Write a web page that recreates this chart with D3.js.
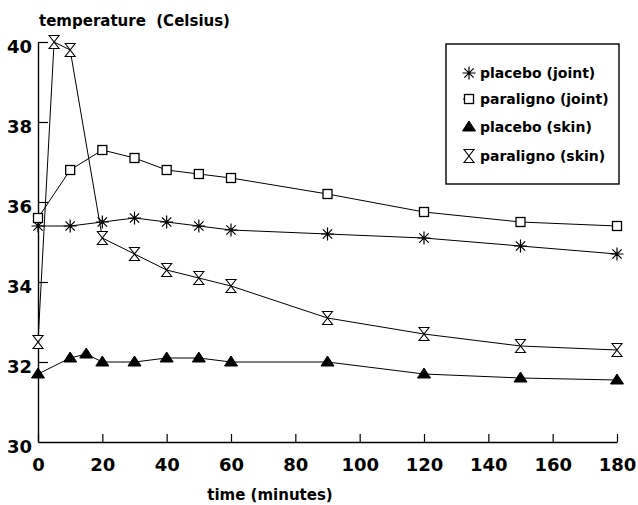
<!DOCTYPE html>
<html><head><meta charset="utf-8">
<script src="https://cdn.jsdelivr.net/npm/d3@7/dist/d3.min.js"></script>
<style>
html,body{margin:0;padding:0;background:#fff;}
svg text{font-family:"DejaVu Sans",sans-serif;font-weight:bold;fill:#000;}
</style></head>
<body><svg id="c" width="638" height="505"></svg>
<script>
// Data
const placeboJointT = [0,10,20,30,40,50,60,90,120,150,180];
const placeboJoint  = [35.4,35.4,35.5,35.6,35.5,35.4,35.3,35.2,35.1,34.9,34.7];
const paralignoJointT = [0,10,20,30,40,50,60,90,120,150,180];
const paralignoJoint  = [35.6,36.8,37.3,37.1,36.8,36.7,36.6,36.2,35.75,35.5,35.4];
const placeboSkinT = [0,10,15,20,30,40,50,60,90,120,150,180];
const placeboSkin  = [31.7,32.1,32.2,32.0,32.0,32.1,32.1,32.0,32.0,31.7,31.6,31.55];
const paralignoSkinT = [0,5,10,20,30,40,50,60,90,120,150,180];
const paralignoSkin  = [32.5,40.0,39.8,35.1,34.7,34.3,34.1,33.9,33.1,32.7,32.4,32.3];
const xTicks = [0,20,40,60,80,100,120,140,160,180];
const yTicks = [30,32,34,36,38,40];
const seriesNames = ["placebo (joint)","paraligno (joint)","placebo (skin)","paraligno (skin)"];

const svg = d3.select("#c");
const x = d3.scaleLinear().domain([0,180]).range([38,617]);
const y = d3.scaleLinear().domain([30,40]).range([442,42]);

// axes
const gx = svg.append("g").attr("transform","translate(0,442)")
  .call(d3.axisBottom(x).tickValues(xTicks).tickSizeInner(-8).tickSizeOuter(0).tickPadding(16));
const gy = svg.append("g").attr("transform","translate(38,0)")
  .call(d3.axisLeft(y).tickValues(yTicks).tickSizeInner(-10).tickSizeOuter(0).tickPadding(6));
[gx,gy].forEach(g=>{
  g.select(".domain").attr("stroke","#000").attr("stroke-width",1.4);
  g.selectAll(".tick line").attr("stroke","#000").attr("stroke-width",1.2);
  g.selectAll(".tick text").style("font-size","18px").style("font-family","DejaVu Sans").style("font-weight","bold").attr("fill","#000");
});
gy.selectAll(".tick text").attr("dy","0.6em");
gy.selectAll(".tick").filter(d=>d===30).select("line").remove();

// titles
svg.append("text").attr("x",39).attr("y",26).style("font-size","15px").attr("xml:space","preserve").text("temperature  (Celsius)");
svg.append("text").attr("x",270).attr("y",500).attr("text-anchor","middle").style("font-size","15px").text("time (minutes)");

// marker painters
function asterisk(g,cx,cy){
  const r=6.5;
  const p=`M${cx-r},${cy}L${cx+r},${cy}M${cx},${cy-r}L${cx},${cy+r}M${cx-r*0.72},${cy-r*0.72}L${cx+r*0.72},${cy+r*0.72}M${cx-r*0.72},${cy+r*0.72}L${cx+r*0.72},${cy-r*0.72}`;
  g.append("path").attr("d",p).attr("stroke","#000").attr("stroke-width",1.2).attr("fill","none");
}
function square(g,cx,cy){
  g.append("rect").attr("x",cx-4.5).attr("y",cy-4.5).attr("width",9).attr("height",9)
   .attr("fill","#fff").attr("stroke","#000").attr("stroke-width",1.3);
}
function triangle(g,cx,cy){
  const w=6.5,h=10;
  g.append("path").attr("d",`M${cx},${cy-h*0.6}L${cx+w},${cy+h*0.4}L${cx-w},${cy+h*0.4}Z`).attr("fill","#000").attr("stroke","#000");
}
function hourglass(g,cx,cy){
  const w=5,h=6.5;
  g.append("path").attr("d",`M${cx-w},${cy-h}L${cx+w},${cy-h}L${cx},${cy}L${cx+w},${cy+h}L${cx-w},${cy+h}L${cx},${cy}Z`)
   .attr("fill","#fff").attr("stroke","#000").attr("stroke-width",1.1).attr("stroke-linejoin","miter");
}

const series = [
  {t:placeboJointT, v:placeboJoint, m:asterisk},
  {t:paralignoJointT, v:paralignoJoint, m:square},
  {t:placeboSkinT, v:placeboSkin, m:triangle},
  {t:paralignoSkinT, v:paralignoSkin, m:hourglass}
];
const line = d3.line().x(d=>x(d[0])).y(d=>y(d[1]));
series.forEach(s=>{
  const pts = s.t.map((t,i)=>[t,s.v[i]]);
  svg.append("path").attr("d",line(pts)).attr("fill","none").attr("stroke","#000").attr("stroke-width",1);
});
series.forEach(s=>{
  const g = svg.append("g");
  s.t.forEach((t,i)=>s.m(g,x(t),y(s.v[i])));
});

// legend
const lg = svg.append("g");
lg.append("rect").attr("x",446).attr("y",44).attr("width",173).attr("height",140)
  .attr("fill","#fff").attr("stroke","#000").attr("stroke-width",1.4);
const rowsY = [73,99,127,156];
seriesNames.forEach((name,i)=>{
  const cy = rowsY[i];
  series[i].m(lg,469,cy);
  if(i===1){lg.append("path").attr("d",`M463,${cy}L465,${cy}`).attr("stroke","#000");}
  lg.append("text").attr("x",480).attr("y",cy+5).style("font-size","14px").text(name);
});
</script></body></html>
